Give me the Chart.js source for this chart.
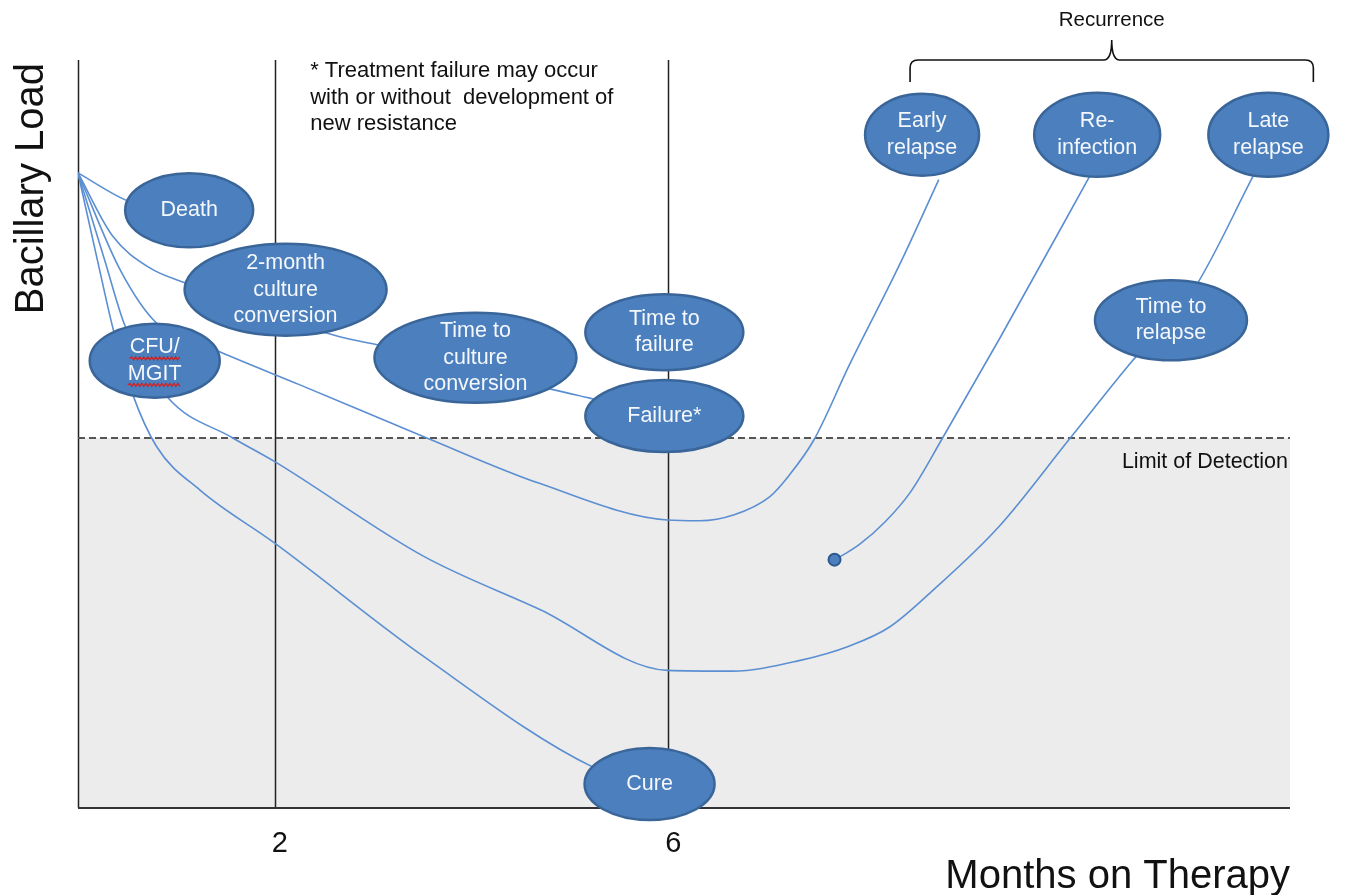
<!DOCTYPE html>
<html>
<head>
<meta charset="utf-8">
<script src="https://cdn.jsdelivr.net/npm/chart.js"></script>
<style>
    html, body { margin: 0; padding: 0; background: #fff; }
    #wrap { width: 1367px; height: 895px; }
</style>
</head>
<body>
<div id="wrap"><canvas id="chart" width="1367" height="895"></canvas></div>
<script>
// 横轴: 治疗月数; 纵轴: 菌负荷 (相对单位 0-100)
const xTicks = [2, 6];
const monthsMax = 12.32;
const loadMax = 100;
const limitOfDetection = 49.5;

// 各条路径 [月, 菌负荷]
const deathPath = [[0, 84.9], [0.48, 81.3], [0.75, 80.2]];
const conversionPath = [[0, 84.9], [0.35, 76.5], [0.73, 72.2], [1.09, 70.2], [2.66, 63.0], [3.05, 61.9], [4.84, 55.9], [5.2, 54.8], [5.95, 52.5]];
const earlyRelapsePath = [[0, 84.9], [0.43, 71.9], [0.8, 64.8], [1.44, 61.0], [2.25, 56.6], [3.54, 49.5], [4.69, 43.4], [5.99, 38.5], [6.32, 38.4], [6.67, 39.2], [7.03, 41.6], [7.23, 44.5], [7.48, 49.2], [7.84, 59.2], [8.35, 72.6], [8.75, 84.0]];
const lateRelapsePath = [[0, 84.9], [0.27, 73.3], [0.48, 64.4], [0.91, 54.9], [1.57, 49.5], [2.0, 46.3], [3.52, 33.6], [4.7, 26.5], [5.99, 18.4], [6.65, 18.3], [7.33, 19.7], [7.85, 21.7], [8.25, 24.2], [8.69, 29.1], [9.36, 37.6], [10.07, 49.2], [10.68, 59.2], [11.34, 69.3], [11.95, 84.6]];
const curePath = [[0, 84.9], [0.22, 71.9], [0.36, 63.9], [0.55, 55.5], [0.8, 48.3], [1.24, 42.5], [2.0, 35.4], [3.52, 20.2], [5.23, 5.5], [5.81, 3.1]];
const reinfectionPath = [[7.69, 33.2], [7.8, 34.0], [7.95, 35.3], [8.2, 38.2], [8.46, 42.2], [8.79, 49.5], [9.37, 62.8], [10.29, 84.6]];

// 节点 (椭圆)
const nodeLabels = [
    ['Death'], ['2-month', 'culture', 'conversion'], ['CFU/', 'MGIT'],
    ['Time to', 'culture', 'conversion'], ['Time to', 'failure'], ['Failure*'], ['Cure'],
    ['Early', 'relapse'], ['Re-', 'infection'], ['Late', 'relapse'], ['Time to', 'relapse']
];
const nodeX = [1.13, 2.11, 0.78, 4.04, 5.96, 5.96, 5.81, 8.58, 10.36, 12.1, 11.11];
const nodeY = [79.9, 69.3, 59.8, 60.2, 63.6, 52.4, 3.2, 90.0, 90.0, 90.0, 65.2];

const noteLines = ['* Treatment failure may occur', 'with or without  development of', 'new resistance'];

// 椭圆尺寸 (像素)
const nodeSize = [[64, 37], [101, 46], [65, 37], [101, 45], [79, 38], [79, 36], [65, 36], [57, 41], [63, 42], [60, 42], [76, 40]];

const LINE_COLOR = '#5b8fd2';
const FONT = '"Liberation Sans", Arial, sans-serif';

const toPts = arr => arr.map(p => ({ x: p[0], y: p[1] }));

function pathDataset(arr) {
    return {
        data: toPts(arr),
        borderColor: LINE_COLOR,
        borderWidth: 1.6,
        cubicInterpolationMode: 'monotone',
        pointRadius: 0,
        fill: false
    };
}

// 背景: 灰色区域、检测限虚线、竖线
const backdrop = {
    id: 'backdrop',
    beforeDatasetsDraw(chart) {
        const { ctx, chartArea: a, scales: { x, y } } = chart;
        const lodY = Math.round(y.getPixelForValue(limitOfDetection));
        ctx.save();
        ctx.fillStyle = '#ececec';
        ctx.fillRect(a.left, lodY, a.right - a.left, a.bottom - lodY);

        ctx.strokeStyle = '#222';
        ctx.lineWidth = 1.5;
        [0, ...xTicks].forEach(v => {
            const px = Math.round(x.getPixelForValue(v)) + 0.5;
            ctx.beginPath();
            ctx.moveTo(px, a.top);
            ctx.lineTo(px, a.bottom);
            ctx.stroke();
        });

        ctx.lineWidth = 2;
        ctx.strokeStyle = '#333';
        ctx.beginPath();
        ctx.moveTo(a.left, a.bottom);
        ctx.lineTo(a.right, a.bottom);
        ctx.stroke();

        ctx.setLineDash([7, 4]);
        ctx.strokeStyle = '#555';
        ctx.beginPath();
        ctx.moveTo(a.left, lodY);
        ctx.lineTo(a.right, lodY);
        ctx.stroke();
        ctx.restore();
    }
};

function squiggle(ctx, x0, x1, yy) {
    ctx.beginPath();
    ctx.moveTo(x0, yy);
    let up = true;
    for (let px = x0 + 2; px <= x1; px += 2) {
        ctx.lineTo(px, yy + (up ? -1.5 : 1.5));
        up = !up;
    }
    ctx.stroke();
}

// 椭圆节点与文字
const nodes = {
    id: 'nodes',
    afterDatasetsDraw(chart) {
        const { ctx, scales: { x, y } } = chart;
        ctx.save();
        nodeLabels.forEach((lines, i) => {
            const cx = x.getPixelForValue(nodeX[i]);
            const cy = y.getPixelForValue(nodeY[i]);
            const [rx, ry] = nodeSize[i];
            ctx.beginPath();
            ctx.ellipse(cx, cy, rx, ry, 0, 0, Math.PI * 2);
            ctx.fillStyle = '#4b7fbd';
            ctx.fill();
            ctx.lineWidth = 2.5;
            ctx.strokeStyle = '#3a6599';
            ctx.stroke();

            ctx.fillStyle = '#f4f7fb';
            ctx.font = '21.5px ' + FONT;
            ctx.textAlign = 'center';
            ctx.textBaseline = 'middle';
            const lh = 26.5;
            lines.forEach((t, k) => {
                const ty = cy + (k - (lines.length - 1) / 2) * lh;
                ctx.fillText(t, cx, ty);
                if (lines[0] === 'CFU/') {
                    const w = ctx.measureText(t).width;
                    ctx.strokeStyle = '#d02020';
                    ctx.lineWidth = 1.2;
                    squiggle(ctx, cx - w / 2, cx + w / 2, ty + 11);
                }
            });
        });
        ctx.restore();
    }
};

// 其余文字: 注释、复发括号、刻度、坐标轴标题
const annotations = {
    id: 'annotations',
    afterDraw(chart) {
        const { ctx, chartArea: a, scales: { x, y } } = chart;
        ctx.save();
        ctx.fillStyle = '#111';
        ctx.textBaseline = 'middle';

        ctx.font = '22px ' + FONT;
        ctx.textAlign = 'left';
        noteLines.forEach((t, k) => ctx.fillText(t, x.getPixelForValue(2.36), a.top + 11 + k * 26.5));

        ctx.font = '21.5px ' + FONT;
        ctx.textAlign = 'right';
        ctx.fillText('Limit of Detection', a.right - 2, y.getPixelForValue(limitOfDetection) + 24);

        // 复发括号
        const bl = x.getPixelForValue(nodeX[7]) - 12;
        const br = x.getPixelForValue(nodeX[9]) + 45;
        const bm = (bl + br) / 2;
        const by = a.top;
        ctx.strokeStyle = '#111';
        ctx.lineWidth = 1.6;
        ctx.beginPath();
        ctx.moveTo(bl, by + 22);
        ctx.lineTo(bl, by + 8);
        ctx.quadraticCurveTo(bl, by, bl + 8, by);
        ctx.lineTo(bm - 8, by);
        ctx.quadraticCurveTo(bm, by, bm, by - 20);
        ctx.quadraticCurveTo(bm, by, bm + 8, by);
        ctx.lineTo(br - 8, by);
        ctx.quadraticCurveTo(br, by, br, by + 8);
        ctx.lineTo(br, by + 22);
        ctx.stroke();

        ctx.textAlign = 'center';
        ctx.font = '20.5px ' + FONT;
        ctx.fillText('Recurrence', bm, by - 40);

        // 刻度
        ctx.font = '29px ' + FONT;
        xTicks.forEach(v => ctx.fillText(String(v), x.getPixelForValue(v) + 5, a.bottom + 36));

        // 坐标轴标题
        ctx.font = '40px ' + FONT;
        ctx.textAlign = 'right';
        ctx.textBaseline = 'alphabetic';
        ctx.fillText('Months on Therapy', a.right, 888);

        ctx.translate(43, a.top);
        ctx.rotate(-Math.PI / 2);
        ctx.textAlign = 'right';
        ctx.fillText('Bacillary Load', -3, 0);
        ctx.restore();
    }
};

const reinfection = pathDataset(reinfectionPath);
reinfection.pointRadius = ctx => (ctx.dataIndex === 0 ? 6 : 0);
reinfection.pointBackgroundColor = '#4b7fbd';
reinfection.pointBorderColor = '#2d5a8e';
reinfection.pointBorderWidth = 2;

new Chart(document.getElementById('chart'), {
    type: 'line',
    data: {
        datasets: [
            pathDataset(deathPath),
            pathDataset(conversionPath),
            pathDataset(earlyRelapsePath),
            pathDataset(lateRelapsePath),
            pathDataset(curePath),
            reinfection
        ]
    },
    options: {
        responsive: false,
        animation: false,
        devicePixelRatio: 1,
        layout: { padding: { left: 78, right: 77, top: 60, bottom: 87 } },
        plugins: { legend: { display: false }, tooltip: { enabled: false } },
        scales: {
            x: { type: 'linear', min: 0, max: monthsMax, display: false },
            y: { min: 0, max: loadMax, display: false }
        }
    },
    plugins: [backdrop, nodes, annotations]
});
</script>
</body>
</html>
